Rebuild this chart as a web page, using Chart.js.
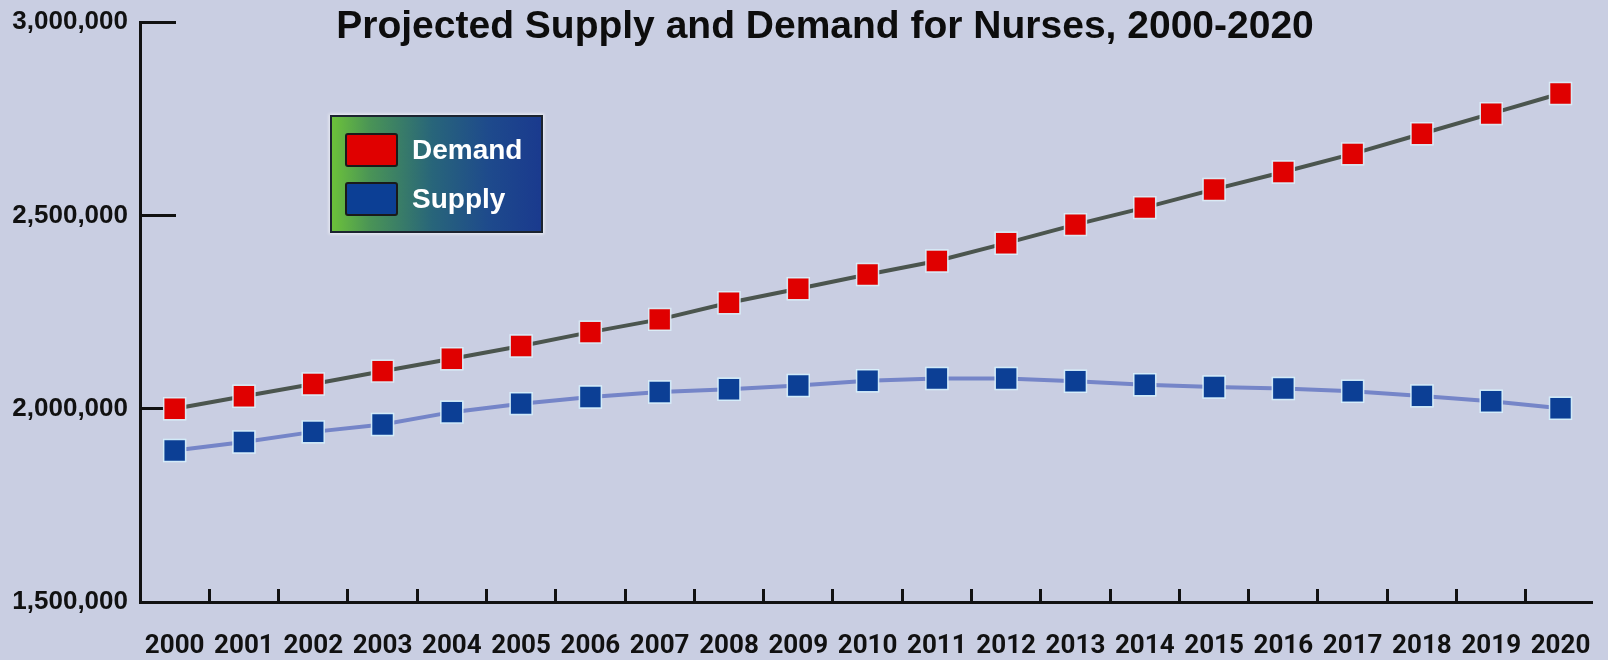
<!DOCTYPE html>
<html>
<head>
<meta charset="utf-8">
<title>Projected Supply and Demand for Nurses, 2000-2020</title>
<script src="https://cdn.jsdelivr.net/npm/chart.js@4.4.1/dist/chart.umd.min.js"></script>
<style>
  html, body {
    margin: 0;
    padding: 0;
    background: #c9cee2;
    overflow: hidden;
  }
  #wrap {
    position: relative;
    width: 1608px;
    height: 660px;
  }
  #title {
    position: absolute;
    left: 825px;
    top: 5px;
    transform: translateX(-50%);
    margin: 0;
    font: bold 39px "Liberation Sans", Arial, sans-serif;
    line-height: 1;
    white-space: nowrap;
    color: #0d0d0d;
  }
  #legend {
    position: absolute;
    left: 330px;
    top: 115px;
    width: 209px;
    height: 114px;
    border: 2px solid #1c2430;
    background: linear-gradient(to right, #6cc23a 0%, #4a9456 18%, #28657a 48%, #1e4a8c 75%, #1a3a8e 100%);
    box-shadow: 0 0 3px 1px rgba(255, 255, 255, 0.7);
  }
  .item {
    position: absolute;
    left: 13px;
    display: flex;
    align-items: center;
  }
  .swatch {
    width: 49px;
    height: 30px;
    border: 2px solid #1a1a1a;
    border-radius: 3px;
  }
  .item span {
    margin-left: 14px;
    font: bold 28px "Liberation Sans", Arial, sans-serif;
    color: #ffffff;
  }
</style>
</head>
<body>
<div id="wrap">
  <canvas id="nurseChart" width="1608" height="660"></canvas>
  <h1 id="title">Projected Supply and Demand for Nurses, 2000-2020</h1>
  <div id="legend"></div>
</div>
<script>
const years = [2000, 2001, 2002, 2003, 2004, 2005, 2006, 2007, 2008, 2009, 2010,
  2011, 2012, 2013, 2014, 2015, 2016, 2017, 2018, 2019, 2020];
const demand = [2000000, 2032000, 2064000, 2097000, 2129000, 2162000, 2198000,
  2231000, 2274000, 2310000, 2347000, 2382000, 2428000, 2476000, 2520000,
  2567000, 2612000, 2659000, 2711000, 2763000, 2815000];
const supply = [1892000, 1914000, 1940000, 1959000, 1991000, 2013000, 2030000,
  2043000, 2050000, 2060000, 2072000, 2078000, 2078000, 2071000, 2062000,
  2056000, 2052000, 2045000, 2033000, 2019000, 2001000];
const yTickValues = [1500000, 2000000, 2500000, 3000000];

document.addEventListener("DOMContentLoaded", function () {
  const ctx = document.getElementById("nurseChart").getContext("2d");

  function toPoints(values) {
    return years.map(function (yr, i) {
      return { x: yr, y: values[i] };
    });
  }

  const chart = new Chart(ctx, {
    type: "line",
    data: {
      datasets: [
        {
          label: "Demand",
          data: toPoints(demand),
          borderColor: "#4b554e",
          borderWidth: 4,
          tension: 0,
          pointStyle: "rect",
          pointRadius: 15.5,
          pointBackgroundColor: "#e00000",
          pointBorderColor: "rgba(220, 245, 255, 0.9)",
          pointBorderWidth: 1.5,
        },
        {
          label: "Supply",
          data: toPoints(supply),
          borderColor: "#7585c8",
          borderWidth: 4,
          tension: 0,
          pointStyle: "rect",
          pointRadius: 15.5,
          pointBackgroundColor: "#0c3f95",
          pointBorderColor: "rgba(220, 245, 255, 0.9)",
          pointBorderWidth: 1.5,
        },
      ],
    },
    options: {
      responsive: false,
      animation: false,
      layout: {
        padding: { top: 22, left: 0, right: 0, bottom: 0 },
      },
      plugins: {
        legend: { display: false },
        title: { display: false },
        tooltip: { enabled: false },
      },
      scales: {
        x: {
          type: "linear",
          min: 1999.5,
          max: 2020.44,
          afterBuildTicks: function (scale) {
            scale.ticks = years.map(function (v) {
              return { value: v };
            });
          },
          afterFit: function (scale) {
            scale.height = 58;
            scale.paddingLeft = 0;
            scale.paddingRight = 0;
          },
          grid: {
            offset: true,
            drawOnChartArea: false,
            drawTicks: true,
            tickLength: -13,
            color: "#111111",
            lineWidth: 3,
          },
          border: { color: "#111111", width: 3 },
          ticks: {
            padding: 42,
            color: "#111111",
            maxRotation: 0,
            autoSkip: false,
            font: { family: "Roboto", weight: "bold", size: 26 },
            callback: function (value) {
              return String(value);
            },
          },
        },
        y: {
          type: "linear",
          min: 1500000,
          max: 3000000,
          afterBuildTicks: function (scale) {
            scale.ticks = yTickValues.map(function (v) {
              return { value: v };
            });
          },
          afterFit: function (scale) {
            scale.width = 140;
            scale.paddingTop = 0;
            scale.paddingBottom = 0;
          },
          grid: {
            drawOnChartArea: false,
            drawTicks: true,
            tickLength: -36,
            color: "#111111",
            lineWidth: 3,
          },
          border: { color: "#111111", width: 3 },
          ticks: {
            padding: 48,
            color: "#111111",
            font: { family: "Liberation Sans", weight: "bold", size: 26 },
            callback: function (value) {
              return value.toLocaleString("en-US");
            },
          },
        },
      },
    },
  });

  // legend box drawn as html so it can have the gradient fill
  const legendEl = document.getElementById("legend");
  chart.data.datasets.forEach(function (ds, i) {
    const item = document.createElement("div");
    item.className = "item";
    item.style.top = 16 + i * 49 + "px";
    const swatch = document.createElement("div");
    swatch.className = "swatch";
    swatch.style.background = ds.pointBackgroundColor;
    const text = document.createElement("span");
    text.textContent = ds.label;
    item.appendChild(swatch);
    item.appendChild(text);
    legendEl.appendChild(item);
  });
});
</script>
</body>
</html>
